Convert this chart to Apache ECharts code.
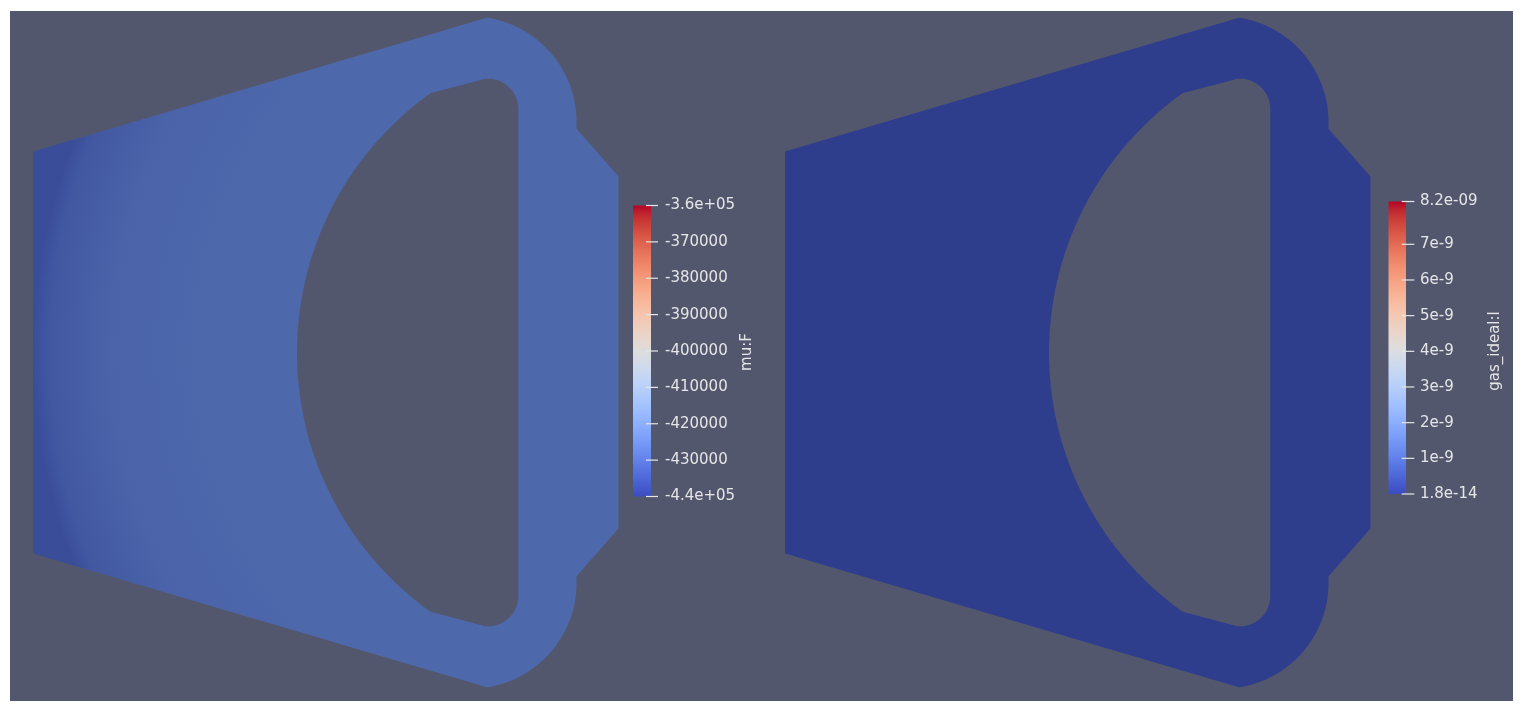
<!DOCTYPE html>
<html>
<head>
<meta charset="utf-8">
<script src="https://cdn.jsdelivr.net/npm/echarts@6/dist/echarts.min.js"></script>
<style>
html,body{margin:0;padding:0;background:#fff;}
#chart{width:1522px;height:708px;}
</style>
</head>
<body>
<div id="chart"></div>
<script>
// ---------------- DATA ----------------
// Field 1: mu:F
const muFRange = [-440000, -360000];
const muFTicks = [-440000, -430000, -420000, -410000, -400000, -390000, -380000, -370000, -360000];
const muFTickLabels = ['-4.4e+05', '-430000', '-420000', '-410000', '-400000', '-390000', '-380000', '-370000', '-3.6e+05'];
// radial field of mu:F over the part (relative radius -> value)
const muFFieldRadius = [0, 0.7, 0.864, 0.97, 1];
const muFFieldValues = [-430000, -430000, -431300, -433500, -436400];
const muFFieldCenter = [567, 0];
const muFFieldExtent = [567];

// Field 2: gas_ideal:l
const gasRange = [1.8e-14, 8.2e-9];
const gasTicks = [1.8e-14, 1e-9, 2e-9, 3e-9, 4e-9, 5e-9, 6e-9, 7e-9, 8.2e-9];
const gasTickLabels = ['1.8e-14', '1e-9', '2e-9', '3e-9', '4e-9', '5e-9', '6e-9', '7e-9', '8.2e-09'];
const gasFieldValue = [1.8e-14];

// Part geometry (model units, y = symmetry axis)
const leftEdgeHalf = [201];
const outerArc = [438, 230.5, 105.5, 81.3, 0];          // cx, cy, r, startDeg, endDeg
const outerStep = [[543.5, 223.8], [585.5, 176]];
const innerSmallArc = [455, 243.5, 30.3, 0, 97];
const innerBigArc = [582.4, 0, 318.4, 125.5, 234.5];
const modelExtentX = [0, 585.5];
const modelExtentY = [-333, 333];

// ---------------- STYLE ----------------
const BG = '#52576e';
const TXT = '#e6e6e6';
const FONT = 'DejaVu Sans';
const shade = [0.8, 0.8, 0.735];
const coolwarm = [[59,76,192],[68,90,204],[77,104,215],[87,117,225],[98,130,234],[108,142,241],[119,154,247],[130,165,251],[141,176,254],[152,185,255],[163,194,255],[174,201,253],[184,208,249],[194,213,244],[204,217,238],[213,219,230],[221,221,221],[229,216,209],[236,211,197],[241,204,185],[245,196,173],[247,187,160],[247,177,148],[247,166,135],[244,154,123],[241,141,111],[236,127,99],[229,112,88],[222,96,77],[213,80,66],[203,62,56],[192,40,47],[180,4,38]];

function cmap(t, sh) {
  t = Math.max(0, Math.min(1, t));
  const f = t * (coolwarm.length - 1);
  const i = Math.min(coolwarm.length - 2, Math.floor(f));
  const u = f - i;
  const c = [0,1,2].map(k => (coolwarm[i][k] * (1 - u) + coolwarm[i+1][k] * u) * (sh ? sh[k] : 1));
  return 'rgb(' + c.map(v => Math.round(v)).join(',') + ')';
}
function norm(v, range) { return (v - range[0]) / (range[1] - range[0]); }

function arcPts(a) {
  const [cx, cy, r, s, e] = a;
  const n = 60, pts = [];
  for (let k = 0; k <= n; k++) {
    const th = (s + (e - s) * k / n) * Math.PI / 180;
    pts.push([cx + r * Math.cos(th), cy + r * Math.sin(th)]);
  }
  return pts;
}
function mirrorY(pts) { return pts.map(p => [p[0], -p[1]]); }

function outerOutline() {
  const pts = [];
  pts.push([0, -leftEdgeHalf[0]], [0, leftEdgeHalf[0]]);
  arcPts(outerArc).forEach(p => pts.push(p));
  pts.push(outerStep[0], outerStep[1]);
  pts.push([outerStep[1][0], -outerStep[1][1]], [outerStep[0][0], -outerStep[0][1]]);
  mirrorY(arcPts(outerArc)).reverse().forEach(p => pts.push(p));
  return pts;
}
function holeOutline() {
  const pts = [];
  arcPts(innerSmallArc).forEach(p => pts.push(p));
  arcPts(innerBigArc).forEach(p => pts.push(p));
  mirrorY(arcPts(innerSmallArc)).reverse().forEach(p => pts.push(p));
  return pts;
}

function partRenderer(fillFn) {
  return function (params, api) {
    const outer = outerOutline().map(p => api.coord(p));
    const hole = holeOutline().map(p => api.coord(p));
    return {
      type: 'group',
      children: [
        { type: 'polygon', shape: { points: outer }, style: { fill: fillFn(api), stroke: null } },
        { type: 'polygon', shape: { points: hole }, style: { fill: BG, stroke: null } }
      ]
    };
  };
}

const muFFill = function (api) {
  const c = api.coord(muFFieldCenter);
  const r = api.size([muFFieldExtent[0], 0])[0];
  return {
    type: 'radial', x: c[0], y: c[1], r: r, global: true,
    colorStops: muFFieldRadius.map((o, i) => ({ offset: o, color: cmap(norm(muFFieldValues[i], muFRange), shade) }))
  };
};
const gasFill = function () { return cmap(norm(gasFieldValue[0], gasRange), shade); };

const barStops = coolwarm.map((c, i) => ({ offset: 1 - i / (coolwarm.length - 1), color: 'rgb(' + c.join(',') + ')' }));
function barRenderer(range, ticks, tickSpan) {
  return function (params, api) {
    const p0 = api.coord([0, range[1]]);
    const p1 = api.coord([1, range[0]]);
    const children = [{
      type: 'rect',
      shape: { x: p0[0], y: p0[1], width: p1[0] - p0[0], height: p1[1] - p0[1] },
      style: { fill: { type: 'linear', x: 0, y: 0, x2: 0, y2: 1, colorStops: barStops } }
    }];
    ticks.forEach(v => {
      const p = api.coord([1, v]);
      children.push({
        type: 'line',
        shape: { x1: p[0] + tickSpan[0], y1: p[1], x2: p[0] + tickSpan[1], y2: p[1] },
        style: { stroke: TXT, lineWidth: 1.2 }
      });
    });
    return { type: 'group', children };
  };
}

const NANO = 1e9;
const gasAxisTicks = gasTicks.map(v => v * NANO);
const gasAxisRange = gasRange.map(v => v * NANO);
function labelFor(values, labels) {
  return function (v) {
    let best = 0, bd = Infinity;
    values.forEach((t, i) => { const d = Math.abs(t - v); if (d < bd) { bd = d; best = i; } });
    return labels[best];
  };
}

const hiddenAxis = (grid, ext) => ({ gridIndex: grid, type: 'value', min: ext[0], max: ext[1], show: false });

const chart = echarts.init(document.getElementById('chart'), null, { renderer: 'canvas' });
chart.setOption({
  backgroundColor: '#ffffff',
  animation: false,
  graphic: [
    { type: 'rect', z: -10, shape: { x: 10, y: 11, width: 1503, height: 690 }, style: { fill: BG } },
    { type: 'text', x: 747, y: 352, rotation: Math.PI / 2, z: 10,
      style: { text: 'mu:F', fill: TXT, fontFamily: FONT, fontSize: 15, align: 'center', verticalAlign: 'middle' } },
    { type: 'text', x: 1495, y: 351, rotation: Math.PI / 2, z: 10,
      style: { text: 'gas_ideal:l', fill: TXT, fontFamily: FONT, fontSize: 15, align: 'center', verticalAlign: 'middle' } }
  ],
  grid: [
    { left: 33, top: 19.5, width: 585.5, height: 666 },
    { left: 785, top: 19.5, width: 585.5, height: 666 },
    { left: 633, top: 205.5, width: 18, height: 291 },
    { left: 1388.5, top: 201.5, width: 17.5, height: 292.5 }
  ],
  xAxis: [
    hiddenAxis(0, modelExtentX), hiddenAxis(1, modelExtentX),
    hiddenAxis(2, [0, 1]), hiddenAxis(3, [0, 1])
  ],
  yAxis: [
    hiddenAxis(0, modelExtentY), hiddenAxis(1, modelExtentY),
    {
      gridIndex: 2, type: 'value', min: muFRange[0], max: muFRange[1], position: 'right', offset: -5, z: 10,
      splitLine: { show: false }, axisLine: { show: false }, axisTick: { show: false },
      axisLabel: { customValues: muFTicks, margin: 19, color: TXT, fontFamily: FONT, fontSize: 15,
        formatter: labelFor(muFTicks, muFTickLabels) }
    },
    {
      gridIndex: 3, type: 'value', min: gasAxisRange[0], max: gasAxisRange[1], position: 'right', offset: -4, z: 10,
      splitLine: { show: false }, axisLine: { show: false }, axisTick: { show: false },
      axisLabel: { customValues: gasAxisTicks, margin: 18, color: TXT, fontFamily: FONT, fontSize: 15,
        formatter: labelFor(gasAxisTicks, gasTickLabels) }
    }
  ],
  series: [
    { type: 'custom', xAxisIndex: 0, yAxisIndex: 0, data: [[0, 0]], renderItem: partRenderer(muFFill), silent: true },
    { type: 'custom', xAxisIndex: 1, yAxisIndex: 1, data: [[0, 0]], renderItem: partRenderer(gasFill), silent: true },
    { type: 'custom', xAxisIndex: 2, yAxisIndex: 2, data: [[0, 0]], renderItem: barRenderer(muFRange, muFTicks, [-5, 7]), silent: true },
    { type: 'custom', xAxisIndex: 3, yAxisIndex: 3, data: [[0, 0]], renderItem: barRenderer(gasAxisRange, gasAxisTicks, [-4.3, 8.3]), silent: true }
  ]
});
</script>
</body>
</html>
